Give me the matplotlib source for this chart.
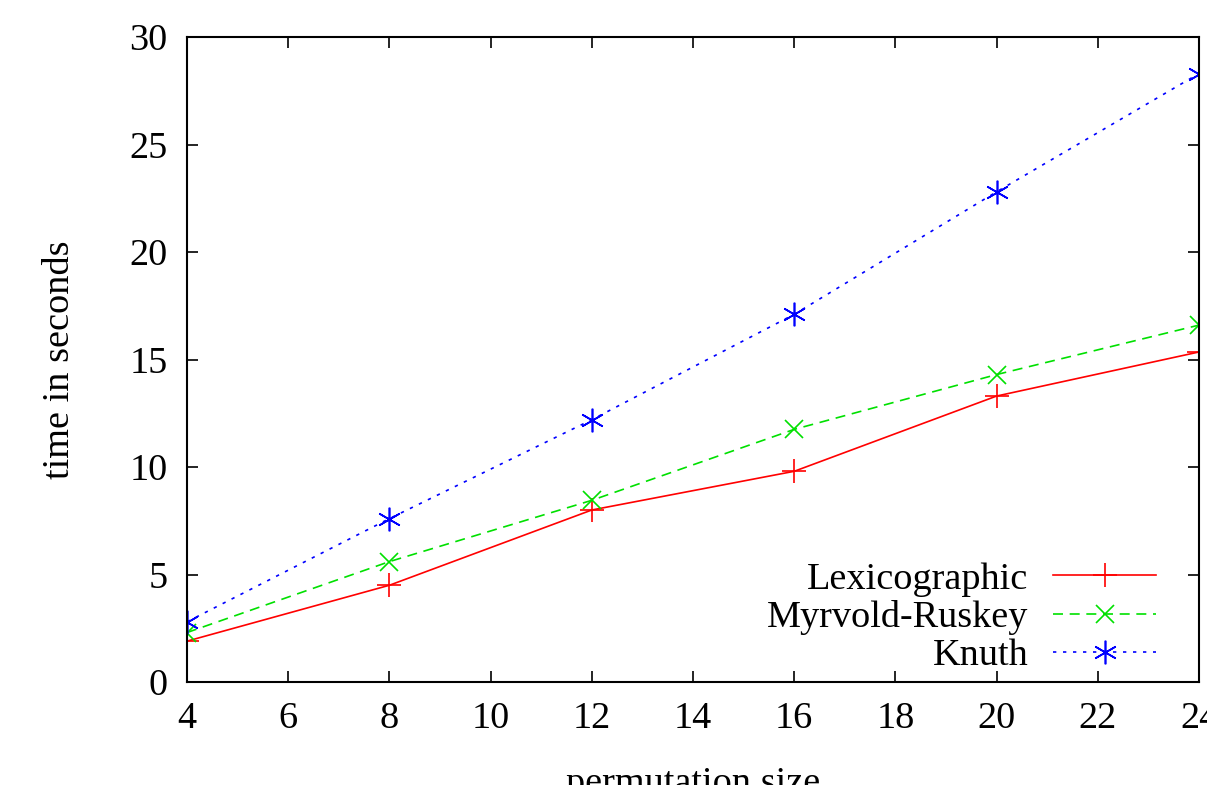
import matplotlib
matplotlib.use("Agg")
import matplotlib.pyplot as plt

# permutation size vs time
sizes = [4, 8, 12, 16, 20, 24]
lexico = [1.9, 4.5, 8.0, 9.8, 13.3, 15.35]
myrvold = [2.3, 5.6, 8.45, 11.75, 14.3, 16.6]
knuth = [2.8, 7.6, 12.2, 17.1, 22.8, 28.3]

plt.rcParams['font.family'] = ['Liberation Serif', 'DejaVu Serif']
plt.rcParams['font.size'] = 27.5

fig = plt.figure(figsize=(12.07, 7.85), dpi=100)
ax = fig.add_axes([187 / 1207, 103 / 785, 1012 / 1207, 645 / 785])

ax.plot(sizes, lexico, color='#ff0000', lw=1.2, ls='-', marker='+', ms=17, mew=1.2,
        label='Lexicographic')
ax.plot(sizes, myrvold, color='#00e000', lw=1.2, ls=(0, (6, 4)), marker='x', ms=13, mew=1.2,
        label='Myrvold-Ruskey')
ax.plot(sizes, knuth, color='#0000ff', lw=1.2, ls=(0, (2, 4)), marker=(6, 2, 0), ms=17, mew=1.2,
        label='Knuth')

ax.set_xlim(4, 24)
ax.set_ylim(0, 30)
ax.set_xticks(range(4, 25, 2))
ax.set_yticks(range(0, 31, 5))
ax.tick_params(direction='in', length=8, width=1.2, top=True, right=True, pad=14)
for s in ax.spines.values():
    s.set_linewidth(1.5)

ax.set_xlabel('permutation size', labelpad=22)
ax.set_ylabel('time in seconds', labelpad=38)

ax.legend(loc='lower right', frameon=False, markerfirst=False, handlelength=2.7,
          handletextpad=0.65, labelspacing=0.09, borderaxespad=0.0,
          bbox_to_anchor=(0.973, -0.01))

fig.savefig('out.png', dpi=100)
